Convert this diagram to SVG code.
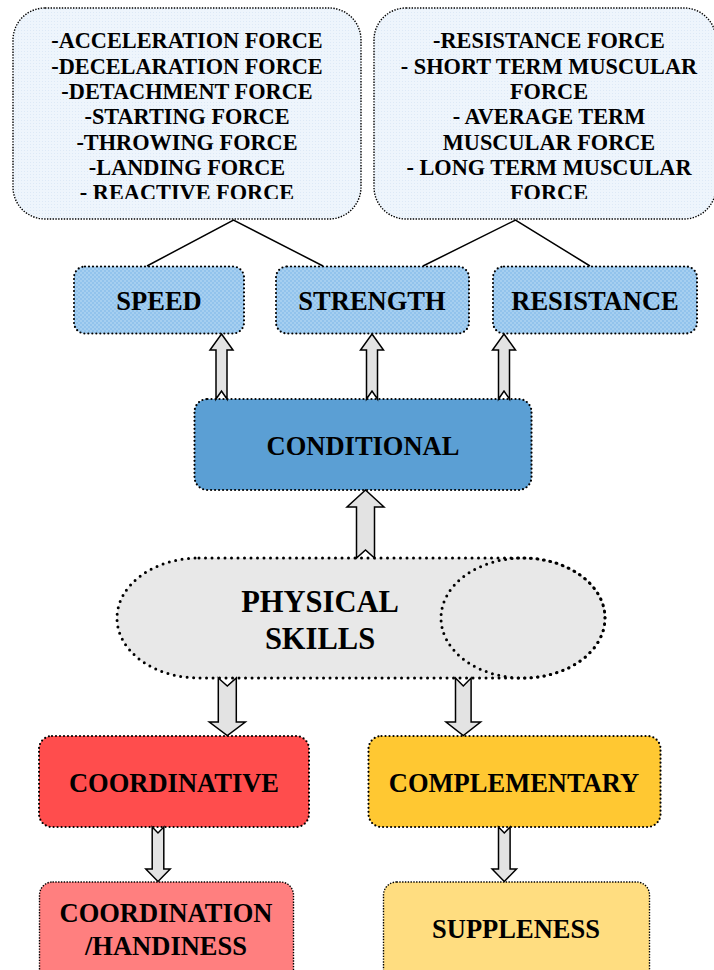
<svg xmlns="http://www.w3.org/2000/svg" width="714" height="970" viewBox="0 0 714 970">
<defs>
<pattern id="fineBlue" width="3" height="3" patternUnits="userSpaceOnUse">
<rect width="3" height="3" fill="#eef5fc"/>
<rect width="1" height="1" fill="#dde9f6"/>
</pattern>
<pattern id="checkBlue" width="4" height="4" patternUnits="userSpaceOnUse">
<rect width="4" height="4" fill="#92c3ec"/>
<rect width="2" height="2" fill="#a6cff0"/>
<rect x="2" y="2" width="2" height="2" fill="#a6cff0"/>
</pattern>
<clipPath id="clipTop"><rect x="0" y="0" width="714" height="199"/></clipPath>
<style>
text{font-family:"Liberation Serif","Times New Roman",serif;font-weight:bold;fill:#000;text-anchor:middle}
.t20{font-size:22.3px}
.t26{font-size:26.5px}
.t30{font-size:30.5px}
.thin{stroke:#000;stroke-width:1.4;stroke-dasharray:1.4 1.4}
.dot{stroke:#000;stroke-width:2.2;stroke-dasharray:0 4;stroke-linecap:round}
.dotb{stroke:#000;stroke-width:3;stroke-dasharray:0 6.5;stroke-linecap:round}
.arrow{fill:#e3e3e3;stroke:#000;stroke-width:1.5;stroke-linejoin:miter}
.line{stroke:#000;stroke-width:1.5;fill:none}
</style>
</defs>
<rect width="714" height="970" fill="#fff"/>

<g id="node-speed-forces">
<rect x="13" y="8" width="348" height="211" rx="32" fill="url(#fineBlue)" class="thin"/>
<g clip-path="url(#clipTop)" class="t20">
<text x="187" y="48.3">-ACCELERATION FORCE</text>
<text x="187" y="73.6">-DECELARATION FORCE</text>
<text x="187" y="98.9">-DETACHMENT FORCE</text>
<text x="187" y="124.2">-STARTING FORCE</text>
<text x="187" y="149.5">-THROWING FORCE</text>
<text x="187" y="174.8">-LANDING FORCE</text>
<text x="187" y="200.1">- REACTIVE FORCE</text>
</g>
</g>

<g id="node-strength-forces">
<rect x="374" y="8" width="342" height="211" rx="32" fill="url(#fineBlue)" class="thin"/>
<g clip-path="url(#clipTop)" class="t20">
<text x="549" y="48.3">-RESISTANCE FORCE</text>
<text x="549" y="73.6">- SHORT TERM MUSCULAR</text>
<text x="549" y="98.9">FORCE</text>
<text x="549" y="124.2">- AVERAGE TERM</text>
<text x="549" y="149.5">MUSCULAR FORCE</text>
<text x="549" y="174.8">- LONG TERM MUSCULAR</text>
<text x="549" y="200.1">FORCE</text>
</g>
</g>

<g id="node-speed">
<rect x="74" y="266.5" width="170" height="67" rx="11" fill="url(#checkBlue)" class="dot"/>
<text class="t26" x="159" y="310">SPEED</text>
</g>
<g id="node-strength">
<rect x="276" y="266.5" width="193" height="67" rx="11" fill="url(#checkBlue)" class="dot"/>
<text class="t26" x="372" y="310">STRENGTH</text>
</g>
<g id="node-resistance">
<rect x="493" y="266.5" width="204" height="67" rx="11" fill="url(#checkBlue)" class="dot"/>
<text class="t26" x="595" y="310">RESISTANCE</text>
</g>

<g id="node-conditional">
<rect x="194.5" y="399" width="337" height="91" rx="13" fill="#5b9fd4" class="dot"/>
<text class="t26" x="363" y="455">CONDITIONAL</text>
</g>

<g id="node-physical">
<path d="M199,558 L523,558 A82,60 0 0 1 523,678 L199,678 A82,60 0 0 1 199,558 Z" fill="#e8e8e8" class="dotb"/>
<ellipse cx="523" cy="618" rx="82" ry="60" fill="none" class="dotb"/>
<text class="t30" x="320" y="611.5">PHYSICAL</text>
<text class="t30" x="320" y="649">SKILLS</text>
</g>

<g id="node-coordinative">
<rect x="39" y="736" width="270" height="91" rx="13" fill="#ff4d4d" class="dot"/>
<text class="t26" x="174" y="791.5">COORDINATIVE</text>
</g>
<g id="node-complementary">
<rect x="368.5" y="736" width="292" height="91" rx="13" fill="#ffc832" class="dot"/>
<text class="t26" x="514" y="791.5">COMPLEMENTARY</text>
</g>
<g id="node-coordination">
<rect x="39.5" y="882" width="254" height="110" rx="13" fill="#ff7f7f" class="thin"/>
<text class="t26" x="166" y="922.3">COORDINATION</text>
<text class="t26" x="166" y="955">/HANDINESS</text>
</g>
<g id="node-suppleness">
<rect x="383.5" y="882" width="266" height="110" rx="13" fill="#ffdd80" class="thin"/>
<text class="t26" x="516" y="938.3">SUPPLENESS</text>
</g>

<g id="connectors">
<path class="line" d="M147,266 L233.5,220 L323,266"/>
<path class="line" d="M423,266 L515.5,220 L590,266"/>
<path class="arrow" d="M221.5,334 L233,350 L227,350 L227,399 L221.5,391 L216,399 L216,350 L210,350 Z"/>
<path class="arrow" d="M372,334 L383.5,350 L377.5,350 L377.5,399 L372,391 L366.5,399 L366.5,350 L360.5,350 Z"/>
<path class="arrow" d="M504,334 L515.5,350 L509.5,350 L509.5,399 L504,391 L498.5,399 L498.5,350 L492.5,350 Z"/>
<path class="arrow" d="M365.5,490 L384,507 L374.5,507 L374.5,558 L365.5,550 L356.5,558 L356.5,507 L347,507 Z"/>
<path class="arrow" d="M218.3,678 L227.3,686 L236.3,678 L236.3,722 L245.3,722 L227.3,735.5 L209.3,722 L218.3,722 Z"/>
<path class="arrow" d="M455.5,678 L463.3,686 L471.1,678 L471.1,722 L480.6,722 L463.3,735.5 L446,722 L455.5,722 Z"/>
<path class="arrow" d="M152.2,827 L158,833 L163.8,827 L163.8,869 L170.2,869 L158,881.5 L145.8,869 L152.2,869 Z"/>
<path class="arrow" d="M498.5,827 L504.3,833 L510.1,827 L510.1,869 L516.5,869 L504.3,881.5 L492.1,869 L498.5,869 Z"/>
</g>
</svg>
